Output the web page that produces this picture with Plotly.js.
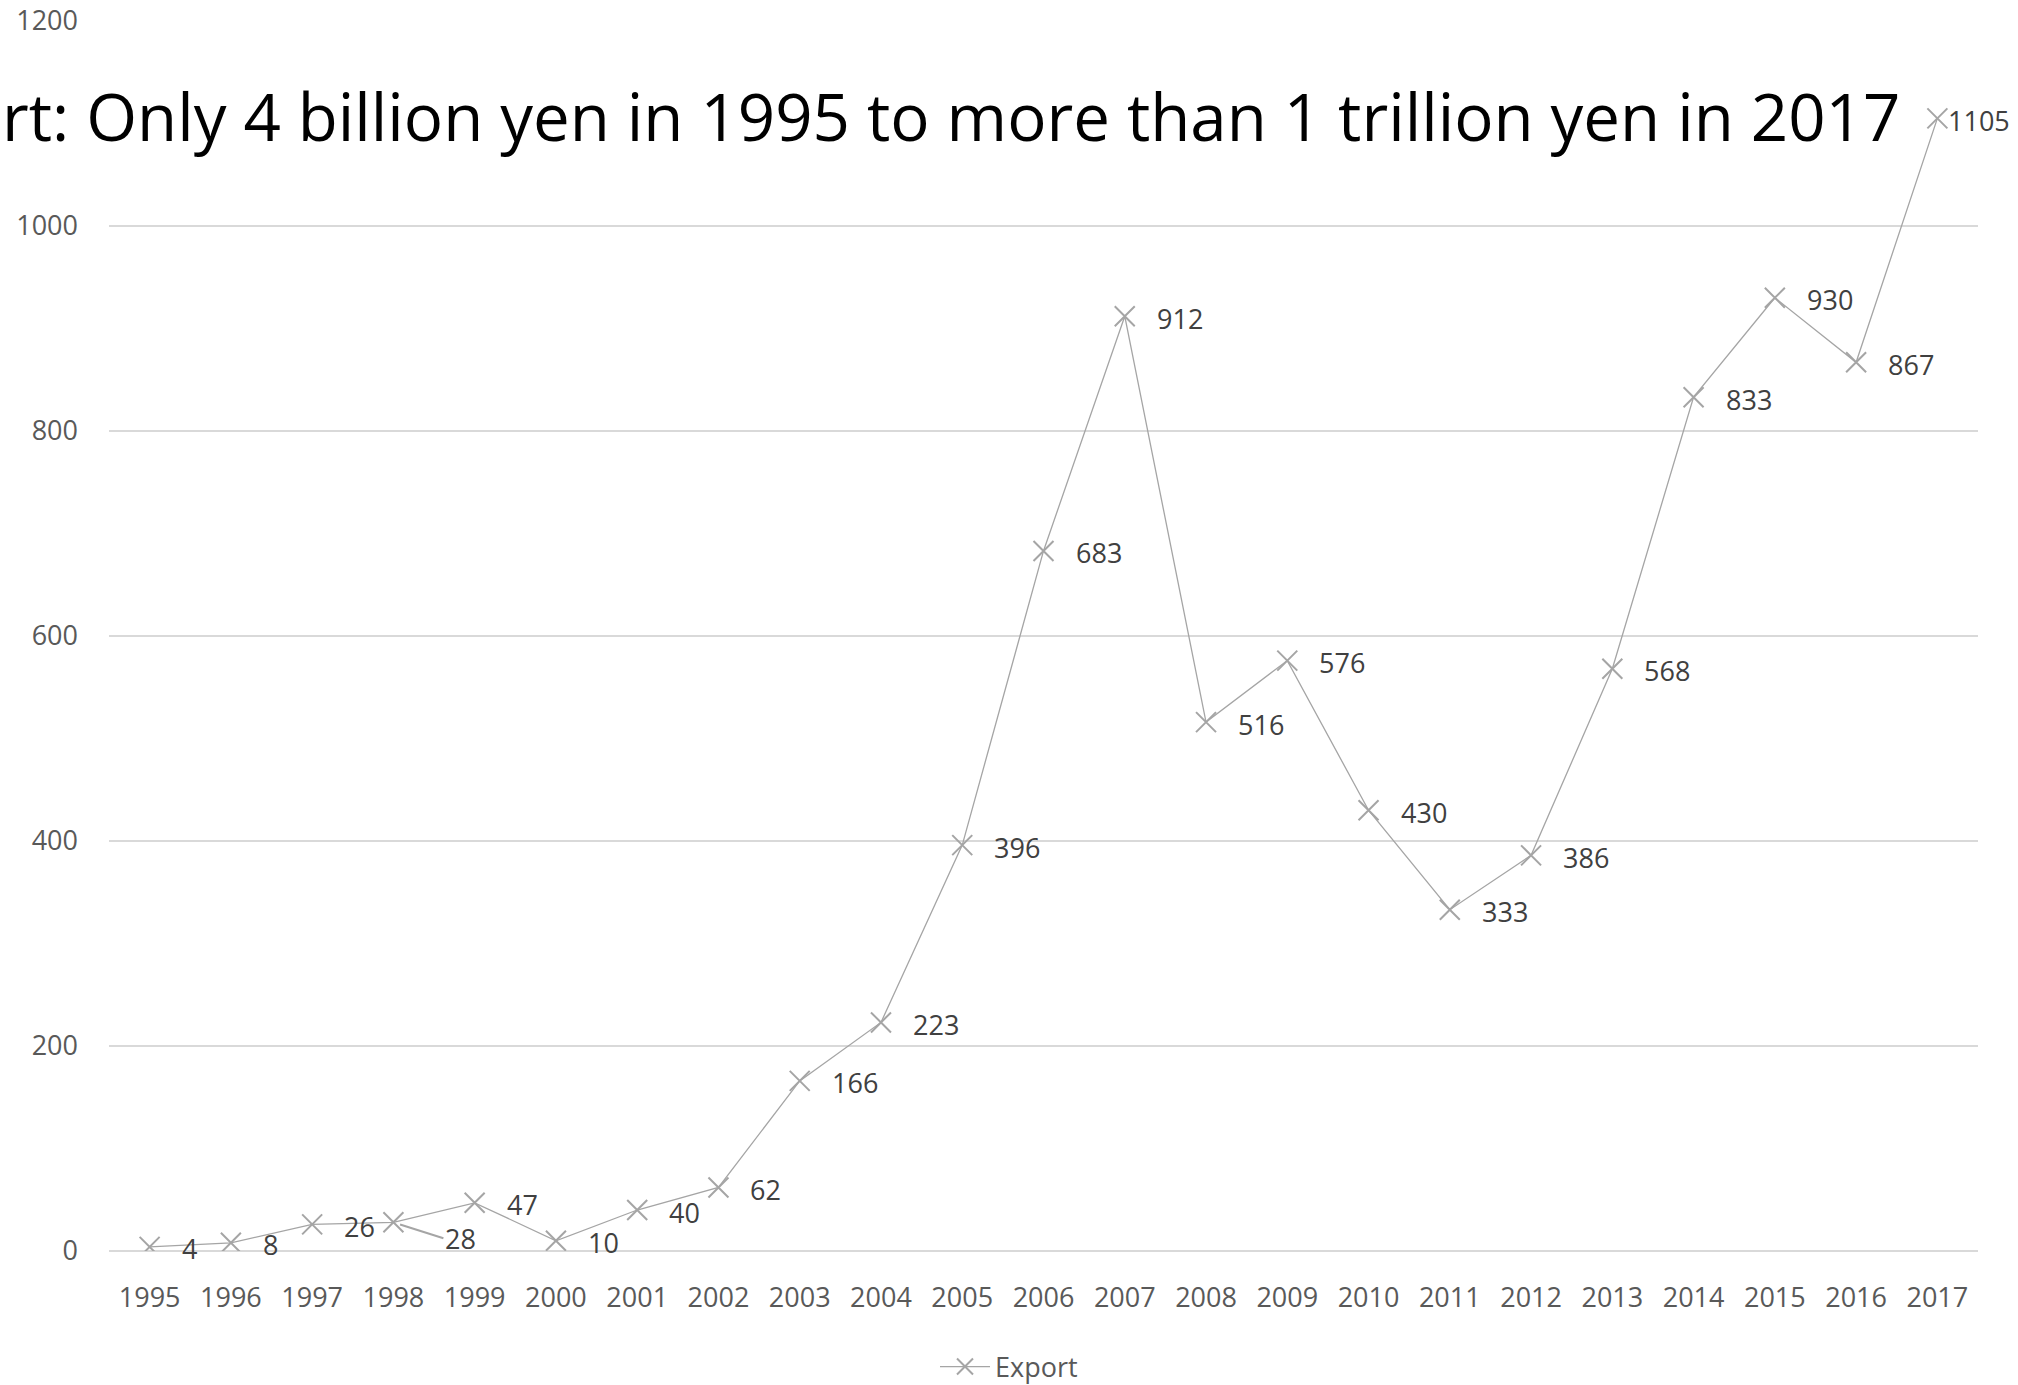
<!DOCTYPE html>
<html>
<head>
<meta charset="utf-8">
<script src="https://cdn.plot.ly/plotly-3.0.1.min.js"></script>
<style>html,body{margin:0;padding:0;background:#fff;}#chart{width:2018px;height:1385px;}</style>
</head>
<body>
<div id="chart"></div>
<script>
const years = ["1995","1996","1997","1998","1999","2000","2001","2002","2003","2004","2005","2006","2007","2008","2009","2010","2011","2012","2013","2014","2015","2016","2017"];
const exportValues = [4, 8, 26, 28, 47, 10, 40, 62, 166, 223, 396, 683, 912, 516, 576, 430, 333, 386, 568, 833, 930, 867, 1105];
const seriesName = "Export";
// the reference shows the title cut at the left edge, starting with "rt:"
const titleText = "rt: Only 4 billion yen in 1995 to more than 1 trillion yen in 2017";
const yTicks = [0, 200, 400, 600, 800, 1000, 1200];

const FONT = "Open Sans, Noto Sans, Liberation Sans, sans-serif";
const GRAY = "#a5a5a5";

const trace = {
  x: years,
  y: exportValues,
  name: seriesName,
  type: "scatter",
  mode: "lines+markers",
  line: {color: GRAY, width: 1.3},
  marker: {symbol: "x-thin-open", size: 20, color: GRAY, line: {color: GRAY, width: 2}},
  hoverinfo: "x+y"
};

// category axis: annotations positioned by category index
const annotations = years.map((yr, i) => {
  const a = {
    x: i, y: exportValues[i], xref: "x", yref: "y",
    text: String(exportValues[i]),
    showarrow: false, xanchor: "left", yanchor: "middle",
    xshift: 30, yshift: -2,
    font: {family: FONT, size: 27, color: "#404040"}
  };
  if (yr === "2017") { a.xshift = 9; }
  if (yr === "1998") {
    a.showarrow = true; a.arrowhead = 0; a.arrowwidth = 2; a.arrowcolor = GRAY;
    a.ax = 50; a.ay = 16; a.xshift = 0; a.yshift = 0;
    a.standoff = 7;
  }
  return a;
});

const layout = {
  width: 2018, height: 1385,
  paper_bgcolor: "#ffffff", plot_bgcolor: "#ffffff",
  margin: {l: 109, r: 40, t: 21, b: 134},
  font: {family: FONT, color: "#595959"},
  title: {
    text: titleText,
    font: {family: FONT, size: 65.4, color: "#000000"},
    xref: "container", yref: "container",
    x: 0.001, xanchor: "left", y: 0.915, yanchor: "middle"
  },
  xaxis: {
    type: "category", range: [-0.5, 22.5], automargin: false,
    showgrid: false, zeroline: false, showline: false,
    ticks: "", ticklabelstandoff: 28,
    tickfont: {family: FONT, size: 27, color: "#595959"}
  },
  yaxis: {
    range: [0, 1200], tickvals: yTicks, automargin: false,
    showgrid: true, gridcolor: "#d9d9d9", gridwidth: 2,
    zeroline: true, zerolinecolor: "#d9d9d9", zerolinewidth: 2,
    showline: false, ticks: "", ticklabelstandoff: 30,
    tickfont: {family: FONT, size: 27, color: "#595959"}
  },
  showlegend: true,
  legend: {
    orientation: "h", xref: "container", yref: "container",
    x: 0.5, xanchor: "center", y: 0.013, yanchor: "middle",
    font: {family: FONT, size: 27, color: "#595959"},
    itemwidth: 50
  },
  annotations: annotations
};

Plotly.newPlot("chart", [trace], layout, {displayModeBar: false, responsive: false});
</script>
</body>
</html>
